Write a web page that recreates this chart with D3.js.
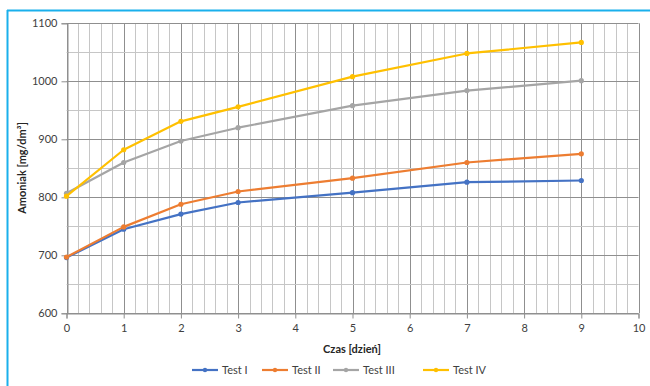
<!DOCTYPE html>
<html><head><meta charset="utf-8">
<script src="https://cdn.jsdelivr.net/npm/d3@7"></script>
<style>
body{margin:0;background:#fff;}
text{font-family:Lato,"Open Sans",sans-serif;}
</style></head>
<body><svg id="c" width="650" height="386"></svg>
<script>
const days = [0,1,2,3,5,7,9];
const testI   = [696,745,771,791,808,826,829];
const testII  = [697,749,788,810,833,860,875];
const testIII = [807,860,897,920,958,984,1001];
const testIV  = [802,882,931,956,1008,1048,1067];
const seriesNames = ["Test I","Test II","Test III","Test IV"];
const seriesColors = ["#4472C4","#ED7D31","#A5A5A5","#FFC000"];
const xTicks = [0,1,2,3,4,5,6,7,8,9,10];
const yTicks = [600,700,800,900,1000,1100];

const svg = d3.select("#c");
// frame lines (cyan)
svg.append("line").attr("x1",7).attr("x2",650).attr("y1",10.5).attr("y2",10.5).attr("stroke","#1ab0ec").attr("stroke-width",2);
svg.append("line").attr("x1",7.5).attr("x2",7.5).attr("y1",10).attr("y2",386).attr("stroke","#1ab0ec").attr("stroke-width",2);

const x = d3.scaleLinear().domain([0,10]).range([66.5,638.5]);
const y = d3.scaleLinear().domain([600,1100]).range([313.3,23.3]);

const g = svg.append("g");
// grid
d3.range(0,10.001,0.2).forEach(v=>{
  const major = Math.abs(v-Math.round(v))<1e-6;
  g.append("line").attr("x1",Math.round(x(v))+0.5).attr("x2",Math.round(x(v))+0.5)
    .attr("y1",y(1100)).attr("y2",y(600))
    .attr("stroke",major?"#8f8f8f":"#c6c6c6").attr("stroke-width",1);
});
d3.range(600,1100.001,50).forEach(v=>{
  const major = v%100===0;
  g.append("line").attr("x1",x(0)).attr("x2",x(10))
    .attr("y1",Math.round(y(v))+0.5).attr("y2",Math.round(y(v))+0.5)
    .attr("stroke",major?"#8f8f8f":"#c6c6c6").attr("stroke-width",1);
});

// axes
const yAxis = d3.axisLeft(y).tickValues(yTicks).tickFormat(d3.format("d")).tickSize(6).tickPadding(4);
const ya = svg.append("g").attr("transform",`translate(${Math.round(x(0))+0.5},0)`).call(yAxis);
const xAxis = d3.axisBottom(x).tickValues(xTicks).tickFormat(d3.format("d")).tickSize(5).tickPadding(6);
const xa = svg.append("g").attr("transform",`translate(0,${Math.round(y(600))+0.5})`).call(xAxis);
[ya,xa].forEach(a=>{
  a.select(".domain").attr("stroke","#8f8f8f");
  a.selectAll(".tick line").attr("stroke","#8f8f8f");
  a.selectAll(".tick text").attr("fill","#404040").attr("font-size","11px").attr("font-family","Lato,'Open Sans',sans-serif");
});

// titles
svg.append("text").attr("x",352).attr("y",353).attr("text-anchor","middle")
  .attr("font-size","11px").attr("font-weight","bold").attr("fill","#262626").text("Czas [dzień]");
svg.append("text").attr("transform","translate(26,168) rotate(-90)").attr("text-anchor","middle")
  .attr("font-size","11px").attr("font-weight","bold").attr("fill","#262626").text("Amoniak [mg/dm³]");

// series
const allData = [testI,testII,testIII,testIV];
const line = d3.line().x((d,i)=>x(days[i])).y(d=>y(d));
allData.forEach((vals,si)=>{
  svg.append("path").datum(vals).attr("d",line).attr("fill","none")
    .attr("stroke",seriesColors[si]).attr("stroke-width",2.2).attr("stroke-linejoin","round");
  svg.selectAll(null).data(vals).enter().append("circle")
    .attr("cx",(d,i)=>x(days[i])).attr("cy",d=>y(d)).attr("r",2.6).attr("fill",seriesColors[si]);
});

// legend
const legX = [192,262,333,423];
const lg = svg.append("g");
seriesNames.forEach((n,i)=>{
  const gx = legX[i];
  lg.append("line").attr("x1",gx).attr("x2",gx+26).attr("y1",370).attr("y2",370)
    .attr("stroke",seriesColors[i]).attr("stroke-width",2.2);
  lg.append("circle").attr("cx",gx+13).attr("cy",370).attr("r",2.2).attr("fill",seriesColors[i]);
  lg.append("text").attr("x",gx+30).attr("y",374).attr("font-size","11px").attr("fill","#404040").text(n);
});
</script></body></html>
